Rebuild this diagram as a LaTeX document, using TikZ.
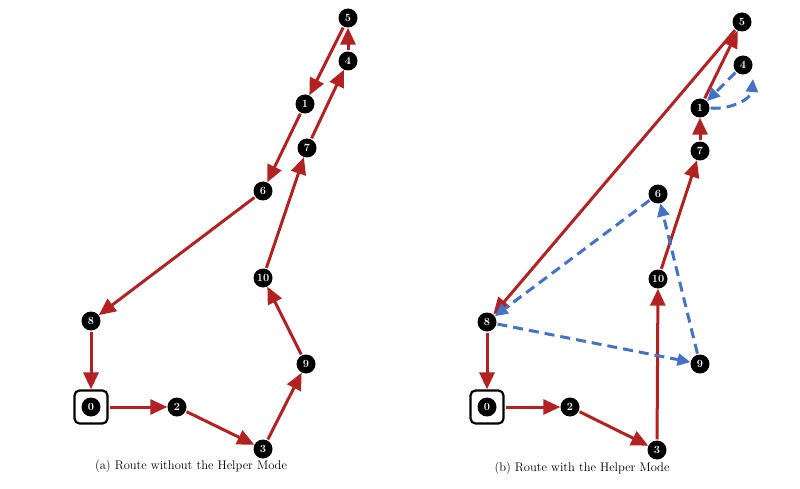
\documentclass[tikz,border=0pt]{standalone}
\usetikzlibrary{arrows.meta}
\definecolor{routered}{HTML}{B22222}
\definecolor{helpblue}{HTML}{4472C4}
\tikzset{
  v/.style={circle,fill=black,text=white,minimum size=19pt,inner sep=0pt,font=\fontsize{11}{11}\selectfont\bfseries},
  depot/.style={draw=black,line width=2.2pt,rounded corners=5pt,minimum size=33pt,inner sep=0pt},
  route/.style={draw=routered,line width=3pt,-{Triangle[length=17pt,width=15pt]},shorten <=1pt},
  helper/.style={draw=helpblue,line width=3pt,dash pattern=on 10pt off 6pt,-{Triangle[length=13pt,width=12pt]},shorten <=1pt},
  captext/.style={font=\fontsize{12.5}{15}\selectfont}
}
\begin{document}
\begin{tikzpicture}[x=1pt,y=-1pt]
\useasboundingbox (0,0) rectangle (800,489);
% ---- left panel
\node[v] (a5) at (348,18) {5};
\node[v] (a4) at (348,61) {4};
\node[v] (a1) at (305,104) {1};
\node[v] (a7) at (307,148) {7};
\node[v] (a6) at (263,191) {6};
\node[v] (a8) at (91,321) {8};
\node[v] (a0) at (91,407) {0};
\node[depot] (ab0) at (91,407) {};
\node[v] (a2) at (177,407) {2};
\node[v] (a3) at (263,449) {3};
\node[v] (a9) at (306,364) {9};
\node[v] (a10) at (263,278) {10};
\draw[route] (ab0) -- (a2);
\draw[route] (a2) -- (a3);
\draw[route] (a3) -- (a9);
\draw[route] (a9) -- (a10);
\draw[route] (a10) -- (a7);
\draw[route] (a7) -- (a4);
\draw[route] (a4) -- (a5);
\draw[route] (a5) -- (a1);
\draw[route] (a1) -- (a6);
\draw[route] (a6) -- (a8);
\draw[route] (a8) -- (ab0);
\node[captext] (capa) at (191,466) {(a) Route without the Helper Mode};
% ---- right panel
\node[v] (b5) at (742,22) {5};
\node[v] (b4) at (743,65) {4};
\node[v] (b1) at (700,108) {1};
\node[v] (b7) at (700,151) {7};
\node[v] (b6) at (658,194) {6};
\node[v] (b10) at (658,279) {10};
\node[v] (b8) at (487,322) {8};
\node[v] (b9) at (700,364) {9};
\node[v] (b0) at (487,407) {0};
\node[depot] (bb0) at (487,407) {};
\node[v] (b2) at (570,407) {2};
\node[v] (b3) at (657,450) {3};
\coordinate (b4in) at (753,79);
\draw[route] (bb0) -- (b2);
\draw[route] (b2) -- (b3);
\draw[route] (b3) -- (b10);
\draw[route] (b10) -- (b7);
\draw[route] (b7) -- (b1);
\draw[route] (b1) -- (b5);
\draw[route] (b5) -- (b8);
\draw[route] (b8) -- (bb0);
\draw[helper] (b8) -- (b9);
\draw[helper] (b9) -- (b6);
\draw[helper] (b6) -- (b8);
\draw[helper] (b4) -- (b1);
\draw[helper] (b1.east) to[out=-5,in=-95] (b4in);
\node[captext] (capb) at (582,468) {(b) Route with the Helper Mode};
\end{tikzpicture}
\end{document}
